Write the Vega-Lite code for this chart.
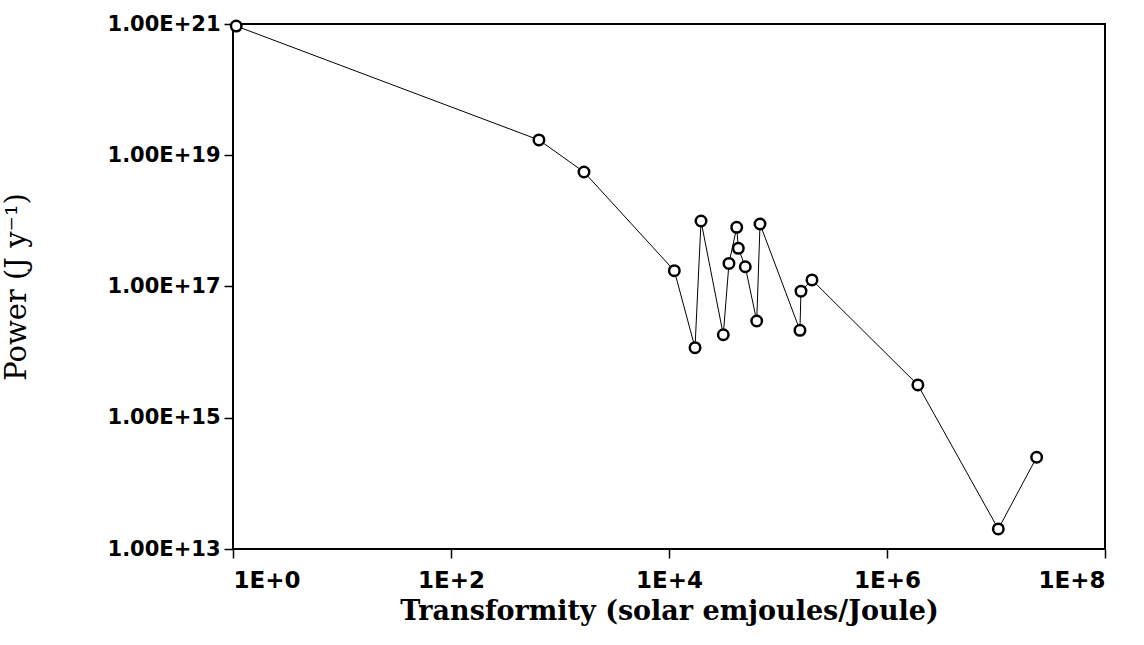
{
  "$schema": "https://vega.github.io/schema/vega-lite/v6.json",
  "autosize": {"type": "none"},
  "width": 872,
  "height": 525,
  "padding": {"left": 233, "top": 24, "right": 39, "bottom": 96},
  "background": "white",
  "config": {
    "view": {"stroke": "black", "strokeWidth": 2},
    "axis": {"grid": false, "domain": false, "tickColor": "black", "tickSize": 9, "tickWidth": 1.5,
      "labelColor": "black", "titleColor": "black"}
  },
  "data": {"values": [
    {"t": 1.07, "p": 9.3e20},
    {"t": 641, "p": 1.71e19},
    {"t": 1660, "p": 5.55e18},
    {"t": 11190, "p": 1.74e17},
    {"t": 17330, "p": 1.17e16},
    {"t": 19670, "p": 9.95e17},
    {"t": 31480, "p": 1.84e16},
    {"t": 35500, "p": 2.25e17},
    {"t": 41800, "p": 7.98e17},
    {"t": 43250, "p": 3.82e17},
    {"t": 50100, "p": 2.0e17},
    {"t": 63800, "p": 2.98e16},
    {"t": 68400, "p": 8.96e17},
    {"t": 159000, "p": 2.15e16},
    {"t": 162500, "p": 8.5e16},
    {"t": 205000, "p": 1.26e17},
    {"t": 1920000, "p": 3.16e15},
    {"t": 10500000, "p": 2.02e13},
    {"t": 23600000, "p": 2.5e14}
  ]},
  "encoding": {
    "x": {"field": "t", "type": "quantitative",
      "scale": {"type": "log", "domain": [1, 100000000], "nice": false},
      "axis": {"values": [1, 100, 10000, 1000000, 100000000],
        "labelExpr": "'1E+' + round(log(datum.value)/LN10)",
        "labelFont": "DejaVu Sans", "labelFontWeight": "bold", "labelFontSize": 23, "labelPadding": 11,
        "title": "Transformity (solar emjoules/Joule)", "titleFont": "DejaVu Serif", "titleFontWeight": "bold",
        "titleFontSize": 27, "titlePadding": 6}},
    "y": {"field": "p", "type": "quantitative",
      "scale": {"type": "log", "domain": [1e13, 1e21], "nice": false},
      "axis": {"values": [1e13, 1e15, 1e17, 1e19, 1e21],
        "labelExpr": "'1.00E+' + round(log(datum.value)/LN10)",
        "labelFont": "DejaVu Sans", "labelFontWeight": "bold", "labelFontSize": 21, "labelPadding": 4,
        "title": "Power (J y⁻¹)", "titleFont": "DejaVu Serif", "titleFontWeight": "normal",
        "titleFontSize": 29, "titlePadding": 76}}
  },
  "layer": [
    {"mark": {"type": "line", "color": "black", "strokeWidth": 1}},
    {"mark": {"type": "point", "shape": "circle", "filled": false, "fill": "white", "fillOpacity": 1, "stroke": "black", "strokeWidth": 2.5, "size": 110, "opacity": 1}}
  ]
}
